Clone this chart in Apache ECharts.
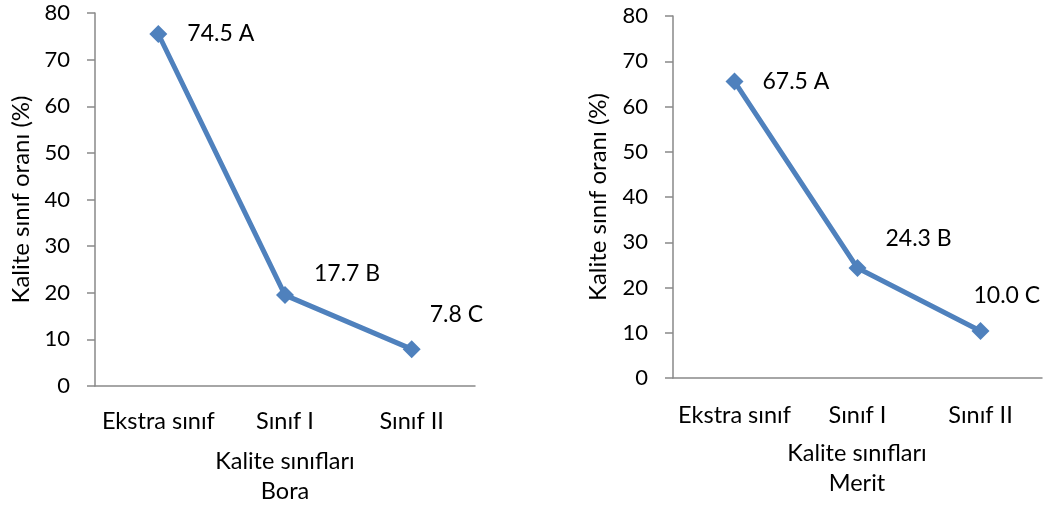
<!DOCTYPE html>
<html><head><meta charset="utf-8">
<script src="https://cdn.jsdelivr.net/npm/echarts@6/dist/echarts.min.js"></script>
<style>html,body{margin:0;padding:0;background:#fff}#c{width:1043px;height:510px}</style>
</head><body><div id="c"></div>
<script>
const categories = ['Ekstra sınıf', 'Sınıf I', 'Sınıf II'];
const yTicks = [0, 10, 20, 30, 40, 50, 60, 70, 80];
const boraValues = [75.5, 19.5, 7.9];
const boraLabels = ['74.5 A', '17.7 B', '7.8 C'];
const meritValues = [65.5, 24.3, 10.4];
const meritLabels = ['67.5 A', '24.3 B', '10.0 C'];
const xTitle = 'Kalite sınıfları';
const yTitle = 'Kalite sınıf oranı (%)';
const panelNames = ['Bora', 'Merit'];

const FONT = 'Lato';
const TXT = '#000';
const AX = '#898989';
const BLUE = '#4F81BD';

const boraOffsets = [[20, 0], [20, -22], [9, -35]];
const meritOffsets = [[19, 0], [19, -29], [-16, -35]];

function yAxis(gridIndex, gap) {
  return {
    type: 'value', gridIndex, min: yTicks[0], max: yTicks[yTicks.length - 1], interval: 10,
    name: yTitle, nameLocation: 'middle', nameGap: gap,
    nameTextStyle: { fontFamily: FONT, fontSize: 24, color: TXT },
    axisLine: { show: true, lineStyle: { color: AX, width: 1.5 } },
    axisTick: { show: true, length: 8, lineStyle: { color: AX, width: 1.5 } },
    axisLabel: { fontFamily: FONT, fontSize: 22, color: TXT, margin: 25 },
    splitLine: { show: false }
  };
}
function xAxis(gridIndex, labelMargin) {
  return {
    type: 'category', gridIndex, data: categories, boundaryGap: true,
    axisLine: { show: true, lineStyle: { color: AX, width: 1.5 } },
    axisTick: { show: false },
    axisLabel: { fontFamily: FONT, fontSize: 23.5, color: TXT, margin: labelMargin, interval: 0 }
  };
}
function xTitleBox(panel, centerX, top) {
  return {
    text: xTitle + '\n' + panel, left: centerX, top: top, textAlign: 'center', padding: 0,
    textStyle: { fontFamily: FONT, fontSize: 23.5, fontWeight: 'normal', color: TXT, lineHeight: 30 }
  };
}
function series(idx, values, labels, offsets) {
  return {
    type: 'line', xAxisIndex: idx, yAxisIndex: idx,
    data: values.map((v, i) => ({
      value: v,
      label: { show: true, position: 'right', distance: 0, offset: offsets[i], formatter: labels[i] }
    })),
    symbol: 'diamond', symbolSize: 18,
    lineStyle: { color: BLUE, width: 5 },
    itemStyle: { color: BLUE },
    label: { fontFamily: FONT, fontSize: 23, color: TXT },
    animation: false
  };
}

const chart = echarts.init(document.getElementById('c'), null, { renderer: 'canvas' });
chart.setOption({
  backgroundColor: '#fff',
  animation: false,
  title: [xTitleBox(panelNames[0], 285, 446), xTitleBox(panelNames[1], 857, 438)],
  grid: [
    { left: 95, top: 13, width: 380, height: 373, containLabel: false, outerBoundsMode: 'none' },
    { left: 673, top: 16, width: 369, height: 362, containLabel: false, outerBoundsMode: 'none' }
  ],
  xAxis: [xAxis(0, 23), xAxis(1, 25)],
  yAxis: [yAxis(0, 62), yAxis(1, 63)],
  series: [
    series(0, boraValues, boraLabels, boraOffsets),
    series(1, meritValues, meritLabels, meritOffsets)
  ]
});
</script></body></html>
